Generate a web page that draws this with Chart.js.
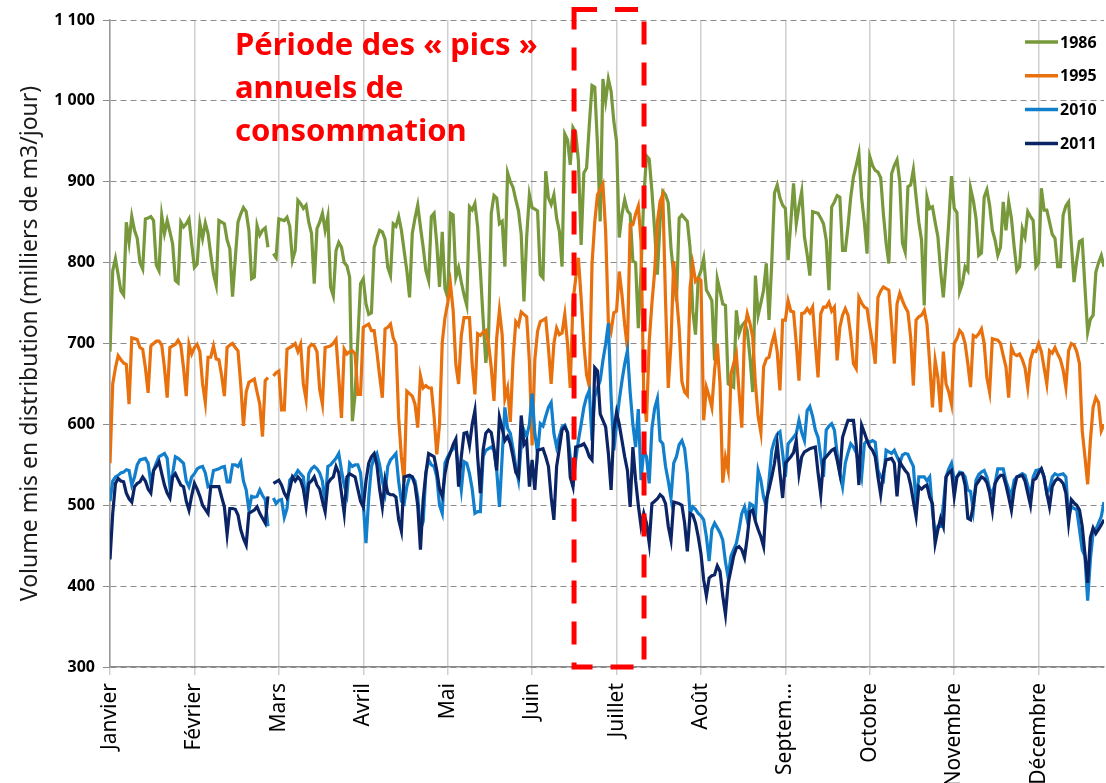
<!DOCTYPE html>
<html>
<head>
<meta charset="utf-8">
<script src="https://cdn.jsdelivr.net/npm/chart.js@4.4.1/dist/chart.umd.min.js"></script>
<style>
    html, body { margin: 0; padding: 0; background: #fff; }
    canvas { display: block; }
</style>
</head>
<body>
<canvas id="volumeChart" width="1106" height="783"></canvas>
<script>
const months = ['Janvier', 'Février', 'Mars', 'Avril', 'Mai', 'Juin', 'Juillet', 'Août',
    'Septem…', 'Octobre', 'Novembre', 'Décembre'];
const monthStep = 31;

// daily volumes, index 0 = 1st January, index 59 = 29 February (empty)
const vol1986 = [
    690,790,805,785,765,760,850,825,857,840, 830,800,792,854,855,857,852,797,790,858,
    836,852,838,823,778,775,850,844,848,854, 823,794,798,848,830,849,836,810,786,772,
    852,850,848,828,817,758,805,850,860,868, 863,840,780,782,846,834,840,843,819,null,
    811,806,854,853,852,856,845,803,815,877, 873,867,871,850,836,774,842,850,861,840,
    857,770,759,815,825,819,800,796,782,604, 637,705,774,780,749,736,738,819,830,840,
    838,829,794,784,848,845,857,840,815,790, 757,836,855,871,844,819,790,778,857,861,
    823,770,838,768,757,861,859,782,794,776, 760,747,869,865,873,844,790,731,676,707,
    861,883,880,848,851,795,911,900,893,878, 864,835,752,831,884,868,866,864,785,781,
    913,880,872,884,855,839,795,959,952,921, 967,961,926,822,911,917,970,1019,1017,946,
    851,1027,1000,1027,1012,975,950,831,860,878, 864,860,802,800,719,790,880,932,928,888,
    840,785,851,888,884,874,818,785,752,855, 859,855,851,818,740,711,781,790,805,766,
    760,753,679,780,765,749,747,650,648,646, 741,712,722,726,716,683,640,784,735,750,
    766,799,729,800,886,896,880,871,867,803, 850,898,848,870,888,832,810,784,863,862,
    861,855,848,828,766,869,875,883,881,815, 815,845,881,906,920,935,880,850,811,931,
    920,914,912,905,860,824,799,910,920,927, 900,824,813,894,896,915,881,850,828,747,
    881,867,869,850,832,790,757,800,850,907, 867,862,764,774,795,790,892,877,855,809,
    812,881,890,871,840,828,809,819,875,840, 875,855,820,790,795,842,832,863,857,852,
    795,800,892,865,865,850,835,830,795,795, 859,870,875,824,776,803,826,828,770,714,
    730,735,788,800,809,795
];

const vol1995 = [
    552,650,670,685,680,676,674,625,707,706, 705,695,693,670,639,697,700,703,703,698,
    670,633,695,697,699,704,698,670,635,699, 687,695,699,690,650,627,683,683,697,681,
    680,660,635,695,698,700,695,691,650,598, 640,652,654,656,640,625,585,654,658,null,
    660,664,666,618,618,693,695,697,700,690, 699,650,631,695,699,697,690,643,625,695,
    696,697,700,705,658,608,693,687,690,691, 687,637,637,720,722,724,716,716,690,660,
    633,718,720,724,707,699,608,560,529,641, 638,635,625,596,660,645,648,645,645,610,
    563,600,701,732,750,774,741,674,650,710, 732,732,732,674,637,712,710,714,716,700,
    670,629,707,741,711,632,645,603,680,727, 722,739,736,733,678,574,680,715,727,729,
    731,694,650,700,719,711,713,736,700,645, 752,780,806,756,700,661,647,798,850,884,
    890,897,839,727,715,738,740,789,760,723, 694,847,847,860,870,826,636,603,702,750,
    789,850,876,884,752,645,700,802,760,719, 653,640,636,769,798,777,781,778,605,646,
    635,621,667,700,650,528,559,543,662,675, 687,640,596,716,737,725,708,650,610,590,
    671,681,683,700,712,690,642,729,729,753, 740,739,700,654,737,738,743,738,745,700,
    658,737,745,745,751,740,745,679,720,735, 743,735,710,675,669,757,750,745,743,720,
    700,675,757,765,770,768,766,724,675,749, 762,753,745,739,708,648,729,733,735,741,
    724,675,621,679,658,615,690,650,640,625, 700,706,716,712,700,675,646,710,708,712,
    718,700,658,640,706,705,704,700,685,671, 633,695,687,685,687,680,670,646,680,691,
    690,700,690,670,650,691,688,695,687,680, 667,646,691,700,698,690,675,592,560,526,
    580,621,633,627,592,600
];

const vol2010 = [
    505,530,535,537,540,541,544,543,525,535, 550,556,557,558,552,527,543,552,560,562,
    564,558,523,539,560,558,555,552,530,523, 535,539,545,547,548,540,523,525,543,544,
    545,547,548,529,529,550,550,548,554,530, 519,494,511,510,511,519,512,507,474,null,
    509,502,506,507,485,496,531,535,537,543, 539,535,502,539,545,548,545,540,530,502,
    548,550,554,558,564,543,525,513,552,548, 550,550,540,502,453,509,548,558,564,550,
    530,515,548,556,560,564,529,505,502,523, 535,535,530,510,470,480,540,556,550,548,
    535,500,490,552,560,566,570,572,545,519, 554,552,539,520,490,492,492,560,568,570,
    572,568,543,498,560,621,595,589,570,548, 531,575,593,585,600,638,589,564,601,598,
    610,621,627,589,572,585,597,599,590,560, 523,556,580,600,621,634,642,580,634,645,
    654,679,699,725,634,568,600,630,654,675, 691,640,600,572,619,531,568,560,527,595,
    620,632,580,576,548,530,509,552,560,575, 580,570,539,490,498,495,490,487,482,461,
    431,470,478,472,466,457,430,410,437,445, 453,470,490,498,482,502,500,486,543,531,
    510,498,531,568,580,588,591,564,535,576, 580,584,589,605,590,580,617,622,610,593,
    584,560,535,593,598,601,593,564,540,523, 552,565,576,572,565,552,535,576,580,578,
    580,578,543,535,531,568,566,564,568,560, 552,562,564,563,555,548,502,535,535,535,
    530,535,494,461,474,474,500,535,545,552, 531,535,541,540,535,519,517,494,531,538,
    541,543,535,520,515,527,545,545,545,530, 520,511,531,535,537,539,537,525,511,535,
    543,544,545,535,515,520,535,539,537,538, 539,535,486,498,496,494,470,445,437,382,
    433,466,470,478,486,504
];

const vol2011 = [
    433,490,527,533,530,529,515,508,504,523, 527,529,535,530,520,515,543,548,554,539,
    525,515,509,535,539,532,525,523,505,494, 512,527,520,511,500,495,490,523,523,523,
    523,510,498,464,496,496,495,488,470,459, 451,490,492,494,498,490,484,478,511,null,
    527,529,531,525,515,509,520,535,530,535, 531,520,498,527,530,535,525,520,505,492,
    527,532,535,548,540,515,490,535,539,537, 535,520,505,498,530,552,560,564,550,520,
    498,531,515,513,513,510,482,468,535,536, 537,535,525,500,445,507,540,564,562,560,
    543,520,511,539,556,565,575,582,523,560, 589,590,574,600,617,560,515,568,589,593,
    590,570,543,609,595,580,585,576,560,541, 535,611,575,580,523,556,519,568,569,570,
    560,548,510,482,548,570,593,597,590,535, 523,572,573,574,576,570,560,556,670,666,
    613,605,597,564,519,593,615,600,580,560, 543,498,572,531,500,474,490,478,453,502,
    505,508,513,510,502,474,457,504,503,502, 500,478,443,490,488,478,461,440,408,388,
    410,413,414,425,418,388,365,404,420,437, 447,449,445,435,460,492,494,480,470,461,
    449,507,520,535,552,576,540,509,552,556, 560,565,580,539,560,566,568,570,571,572,
    540,513,556,560,564,568,570,556,539,584, 595,605,605,605,575,525,599,590,580,572,
    568,560,535,513,540,556,557,558,552,511, 554,548,543,539,525,505,486,523,520,523,
    525,510,502,453,470,484,474,535,540,543, 511,535,539,539,525,484,482,500,525,530,
    535,533,528,515,494,527,533,537,537,525, 510,494,520,535,536,537,530,515,500,531,
    533,540,545,535,515,498,523,530,533,531, 527,515,478,507,503,500,494,474,440,404,
    460,472,465,470,476,482
];

const captionLines = ['Période des « pics »', 'annuels de', 'consommation'];
// peak period box, in days and m3 units
const peakStart = 170.4;
const peakEnd = 196.1;
const peakTop = 1113;
const peakBottom = 300;

Chart.defaults.font.family = "'Noto Sans', sans-serif";

function toPoints(values) {
    return values.map((v, i) => ({ x: i, y: v }));
}

function lineDataset(label, values, color, order) {
    return {
        label: label,
        data: toPoints(values),
        borderColor: color,
        backgroundColor: color,
        borderWidth: 3.2,
        pointRadius: 0,
        tension: 0,
        fill: false,
        order: order
    };
}

const overlay = {
    id: 'overlay',
    afterDraw(chart) {
        const { ctx, chartArea: area, scales: { x, y } } = chart;
        ctx.save();

        // dashed box around the summer peak
        const x0 = x.getPixelForValue(peakStart);
        const x1 = x.getPixelForValue(peakEnd);
        const y0 = y.getPixelForValue(peakTop);
        const y1 = y.getPixelForValue(peakBottom);
        ctx.strokeStyle = '#ff0000';
        ctx.lineWidth = 5;
        ctx.setLineDash([23, 18]);
        ctx.strokeRect(x0, y0, x1 - x0, y1 - y0);
        ctx.setLineDash([]);

        ctx.fillStyle = '#ff0000';
        ctx.font = "bold 31px 'Noto Sans'";
        ctx.textBaseline = 'alphabetic';
        captionLines.forEach((t, i) => {
            ctx.fillText(t, area.left + 125, area.top + 35 + i * 43);
        });

        // legend, top right inside the plot
        ctx.font = "bold 16px 'Noto Sans'";
        ctx.textBaseline = 'middle';
        chart.data.datasets.forEach((ds, i) => {
            const ly = area.top + 22 + i * 33.8;
            ctx.strokeStyle = ds.borderColor;
            ctx.lineWidth = 3.5;
            ctx.beginPath();
            ctx.moveTo(area.right - 79, ly);
            ctx.lineTo(area.right - 46, ly);
            ctx.stroke();
            ctx.fillStyle = '#000';
            ctx.fillText(ds.label, area.right - 44, ly + 1);
        });
        ctx.restore();
    }
};

let chart = new Chart(document.getElementById('volumeChart'), {
    type: 'line',
    plugins: [overlay],
    options: {
        responsive: false,
        animation: false,
        layout: {
            padding: { top: 20, right: 2, bottom: 0, left: 0 }
        },
        scales: {
            x: {
                type: 'linear',
                min: 0,
                max: 365,
                afterBuildTicks: (scale) => {
                    scale.ticks = months.map((m, i) => ({ value: i * monthStep }));
                },
                afterFit: (scale) => {
                    scale.height = 116;
                },
                ticks: {
                    autoSkip: false,
                    minRotation: 90,
                    maxRotation: 90,
                    padding: 8,
                    color: '#000',
                    font: { size: 21 },
                    callback: function (value, index) {
                        return months[index];
                    }
                },
                grid: {
                    color: '#cfcfcf',
                    lineWidth: 1.5,
                    tickLength: 8
                },
                border: {
                    color: '#8a8a8a',
                    width: 1.5
                }
            },
            y: {
                min: 300,
                max: 1100,
                afterFit: (scale) => {
                    scale.width = 110;
                },
                ticks: {
                    stepSize: 100,
                    padding: 8,
                    color: '#000',
                    font: { size: 16, weight: 'bold' },
                    callback: function (value) {
                        return String(value).replace(/\B(?=(\d{3})+(?!\d))/g, ' ');
                    }
                },
                grid: {
                    color: '#8c8c8c',
                    lineWidth: 1,
                    tickLength: 7
                },
                border: {
                    color: '#9a9a9a',
                    width: 1.5,
                    dash: [6, 4]
                },
                title: {
                    display: true,
                    text: 'Volume mis en distribution (milliers de m3/jour)',
                    color: '#1a1a1a',
                    font: { size: 23 },
                    padding: { top: 17, bottom: 0 }
                }
            }
        },
        plugins: {
            legend: { display: false },
            tooltip: { enabled: false }
        }
    },
    data: {
        datasets: [
            lineDataset('1986', vol1986, '#77983b', 4),
            lineDataset('1995', vol1995, '#e8700d', 3),
            lineDataset('2010', vol2010, '#127fcc', 2),
            lineDataset('2011', vol2011, '#0b2466', 1)
        ]
    }
});
</script>
</body>
</html>
